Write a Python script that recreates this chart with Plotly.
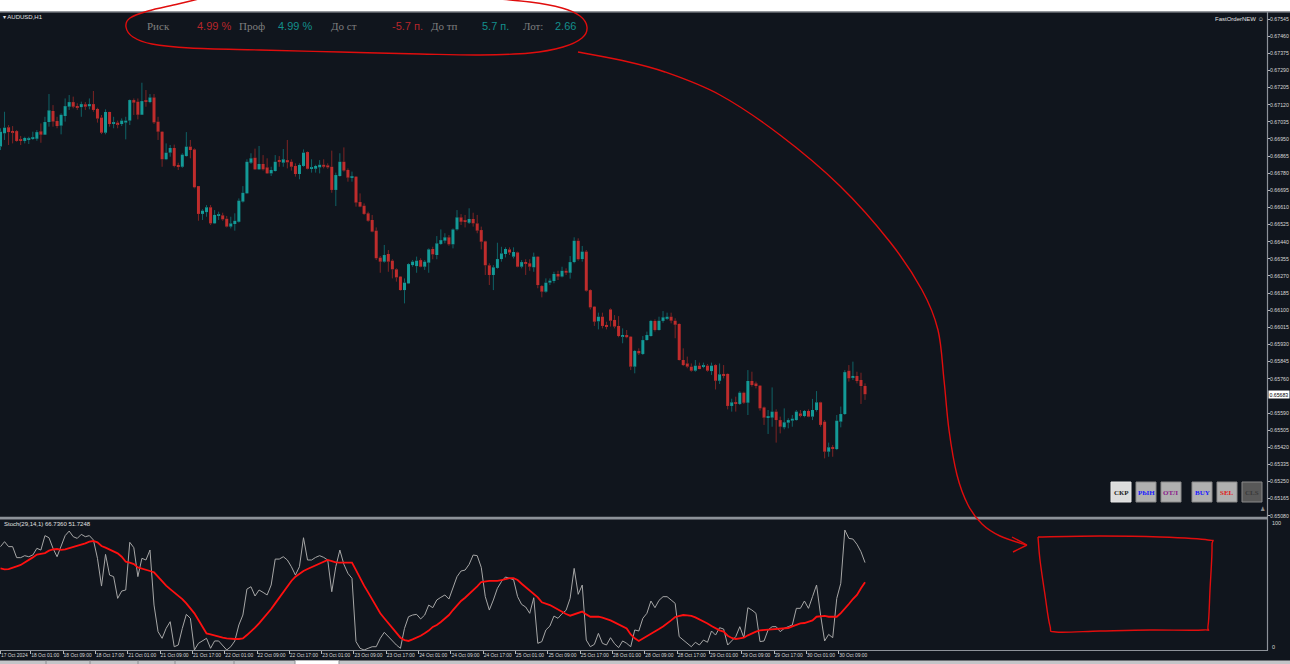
import plotly.graph_objects as go

W, H = 1290, 664

# ---------------- data (AUDUSD H1, 17 Oct 17:00 .. 30 Oct 15:00) ----------------
open_ = [0.66912,0.66978,0.67008,0.66989,0.66989,0.66945,0.66940,0.66946,0.66951,0.66951,
0.66988,0.66971,0.67034,0.67089,0.67039,0.67016,0.67064,0.67110,0.67133,0.67113,
0.67108,0.67122,0.67112,0.67123,0.67099,0.67056,0.66981,0.67084,0.67026,0.67031,
0.67024,0.67031,0.67041,0.67143,0.67135,0.67070,0.67138,0.67133,0.67156,0.67036,
0.66986,0.66849,0.66882,0.66905,0.66821,0.66812,0.66865,0.66912,0.66898,0.66716,
0.66578,0.66587,0.66611,0.66531,0.66569,0.66571,0.66554,0.66515,0.66528,0.66539,
0.66639,0.66680,0.66832,0.66857,0.66799,0.66826,0.66809,0.66779,0.66791,0.66845,
0.66832,0.66845,0.66837,0.66816,0.66776,0.66816,0.66885,0.66802,0.66802,0.66809,
0.66822,0.66819,0.66812,0.66697,0.66766,0.66837,0.66796,0.66758,0.66763,0.66637,
0.66619,0.66581,0.66548,0.66495,0.66361,0.66341,0.66379,0.66346,0.66303,0.66267,
0.66200,0.66233,0.66324,0.66319,0.66349,0.66316,0.66336,0.66404,0.66374,0.66429,
0.66445,0.66462,0.66427,0.66501,0.66561,0.66543,0.66534,0.66553,0.66531,0.66498,
0.66442,0.66323,0.66275,0.66310,0.66354,0.66379,0.66402,0.66366,0.66387,0.66316,
0.66339,0.66333,0.66313,0.66366,0.66220,0.66192,0.66237,0.66245,0.66280,0.66267,
0.66296,0.66286,0.66339,0.66445,0.66354,0.66391,0.66200,0.66118,0.66045,0.66068,
0.66027,0.66104,0.66052,0.66022,0.65972,0.65977,0.65969,0.65820,0.65898,0.65883,
0.65952,0.65972,0.66047,0.66002,0.66047,0.66061,0.66068,0.66048,0.66032,0.65853,
0.65836,0.65820,0.65800,0.65825,0.65820,0.65825,0.65798,0.65828,0.65750,0.65784,
0.65784,0.65625,0.65641,0.65635,0.65691,0.65641,0.65749,0.65737,0.65726,0.65618,
0.65567,0.65567,0.65597,0.65555,0.65519,0.65542,0.65552,0.65555,0.65588,0.65575,
0.65600,0.65572,0.65605,0.65643,0.65547,0.65398,0.65420,0.65411,0.65547,0.65585,
0.65800,0.65767,0.65774,0.65754,0.65724]
high = [0.67003,0.67085,0.67019,0.67014,0.66994,0.66965,0.66961,0.66961,0.66986,0.66994,
0.67027,0.67060,0.67173,0.67118,0.67060,0.67077,0.67151,0.67168,0.67160,0.67127,
0.67135,0.67133,0.67151,0.67188,0.67105,0.67069,0.67097,0.67085,0.67060,0.67041,
0.67052,0.67060,0.67146,0.67151,0.67151,0.67229,0.67193,0.67173,0.67173,0.67060,
0.66989,0.66928,0.66920,0.66922,0.66832,0.66879,0.66984,0.66945,0.66903,0.66716,
0.66601,0.66622,0.66622,0.66597,0.66589,0.66584,0.66568,0.66564,0.66581,0.66655,
0.66716,0.66849,0.66879,0.66902,0.66915,0.66870,0.66854,0.66812,0.66870,0.66865,
0.66900,0.66945,0.66849,0.66829,0.66829,0.66898,0.66888,0.66849,0.66822,0.66845,
0.66849,0.66829,0.66892,0.66783,0.66879,0.66908,0.66804,0.66788,0.66766,0.66680,
0.66630,0.66589,0.66573,0.66511,0.66369,0.66424,0.66399,0.66353,0.66308,0.66270,
0.66258,0.66333,0.66349,0.66366,0.66358,0.66349,0.66407,0.66415,0.66468,0.66501,
0.66482,0.66473,0.66506,0.66597,0.66577,0.66573,0.66606,0.66584,0.66573,0.66515,
0.66445,0.66333,0.66324,0.66435,0.66415,0.66412,0.66412,0.66412,0.66391,0.66349,
0.66353,0.66353,0.66386,0.66369,0.66225,0.66258,0.66258,0.66291,0.66296,0.66316,
0.66308,0.66369,0.66462,0.66457,0.66419,0.66399,0.66204,0.66121,0.66088,0.66088,
0.66043,0.66109,0.66076,0.66071,0.66010,0.66002,0.65972,0.65903,0.65911,0.65972,
0.65994,0.66052,0.66055,0.66068,0.66096,0.66088,0.66088,0.66060,0.66035,0.65911,
0.65870,0.65836,0.65853,0.65840,0.65840,0.65833,0.65840,0.65832,0.65836,0.65828,
0.65787,0.65661,0.65671,0.65698,0.65696,0.65803,0.65795,0.65746,0.65729,0.65622,
0.65605,0.65717,0.65608,0.65572,0.65613,0.65564,0.65580,0.65605,0.65605,0.65605,
0.65608,0.65660,0.65699,0.65646,0.65555,0.65443,0.65431,0.65580,0.65622,0.65803,
0.65828,0.65845,0.65795,0.65790,0.65737]
low = [0.66895,0.66945,0.66920,0.66928,0.66936,0.66920,0.66928,0.66925,0.66945,0.66941,
0.66931,0.66970,0.67011,0.67011,0.67003,0.66973,0.67036,0.67094,0.67102,0.67094,
0.67060,0.67094,0.67097,0.67085,0.67031,0.66974,0.66973,0.67011,0.67003,0.67003,
0.67014,0.66948,0.67019,0.67069,0.67047,0.67069,0.67110,0.67127,0.67024,0.66945,
0.66812,0.66845,0.66862,0.66809,0.66796,0.66807,0.66862,0.66854,0.66705,0.66544,
0.66548,0.66564,0.66523,0.66528,0.66548,0.66544,0.66511,0.66506,0.66495,0.66535,
0.66634,0.66677,0.66826,0.66796,0.66796,0.66793,0.66776,0.66766,0.66788,0.66812,
0.66812,0.66804,0.66793,0.66763,0.66750,0.66812,0.66799,0.66783,0.66783,0.66779,
0.66804,0.66802,0.66683,0.66617,0.66763,0.66788,0.66738,0.66738,0.66614,0.66611,
0.66573,0.66539,0.66487,0.66349,0.66286,0.66336,0.66291,0.66258,0.66242,0.66197,
0.66134,0.66230,0.66316,0.66286,0.66313,0.66300,0.66286,0.66353,0.66353,0.66424,
0.66432,0.66420,0.66407,0.66495,0.66523,0.66511,0.66528,0.66515,0.66482,0.66402,
0.66275,0.66225,0.66200,0.66306,0.66341,0.66362,0.66374,0.66357,0.66313,0.66308,
0.66275,0.66296,0.66291,0.66209,0.66164,0.66187,0.66225,0.66234,0.66250,0.66263,
0.66275,0.66257,0.66333,0.66346,0.66341,0.66192,0.66104,0.66022,0.66005,0.66010,
0.66005,0.66019,0.66010,0.65966,0.65936,0.65961,0.65803,0.65787,0.65878,0.65878,
0.65949,0.65969,0.65994,0.65999,0.66038,0.66052,0.66035,0.65961,0.65850,0.65823,
0.65812,0.65795,0.65795,0.65807,0.65812,0.65795,0.65779,0.65707,0.65734,0.65762,
0.65608,0.65597,0.65597,0.65630,0.65635,0.65580,0.65721,0.65712,0.65602,0.65531,
0.65486,0.65522,0.65443,0.65489,0.65509,0.65514,0.65522,0.65552,0.65569,0.65569,
0.65569,0.65555,0.65597,0.65522,0.65365,0.65373,0.65373,0.65406,0.65519,0.65580,
0.65746,0.65754,0.65737,0.65635,0.65655]
close = [0.66986,0.67006,0.66984,0.66984,0.66940,0.66940,0.66955,0.66950,0.66955,0.66984,
0.66971,0.67034,0.67092,0.67036,0.67014,0.67070,0.67113,0.67133,0.67110,0.67107,
0.67123,0.67110,0.67123,0.67094,0.67051,0.66981,0.67084,0.67024,0.67031,0.67024,
0.67041,0.67041,0.67143,0.67130,0.67070,0.67138,0.67135,0.67156,0.67032,0.66986,
0.66849,0.66882,0.66905,0.66816,0.66812,0.66872,0.66912,0.66895,0.66710,0.66578,
0.66594,0.66611,0.66531,0.66573,0.66573,0.66551,0.66515,0.66531,0.66544,0.66644,
0.66683,0.66837,0.66854,0.66799,0.66826,0.66799,0.66779,0.66796,0.66837,0.66837,
0.66849,0.66834,0.66812,0.66776,0.66821,0.66882,0.66802,0.66807,0.66816,0.66822,
0.66812,0.66809,0.66697,0.66771,0.66837,0.66793,0.66758,0.66761,0.66634,0.66614,
0.66578,0.66544,0.66490,0.66358,0.66341,0.66374,0.66341,0.66303,0.66263,0.66200,
0.66237,0.66329,0.66341,0.66346,0.66316,0.66341,0.66402,0.66377,0.66432,0.66448,
0.66462,0.66427,0.66501,0.66561,0.66539,0.66538,0.66553,0.66531,0.66495,0.66440,
0.66323,0.66275,0.66313,0.66354,0.66382,0.66404,0.66386,0.66389,0.66316,0.66339,
0.66333,0.66316,0.66366,0.66225,0.66192,0.66237,0.66247,0.66280,0.66267,0.66296,
0.66286,0.66339,0.66445,0.66353,0.66391,0.66197,0.66114,0.66043,0.66068,0.66022,
0.66017,0.66048,0.66019,0.65972,0.65977,0.65966,0.65820,0.65898,0.65886,0.65952,
0.65977,0.66047,0.66002,0.66048,0.66065,0.66068,0.66048,0.66028,0.65853,0.65828,
0.65820,0.65800,0.65825,0.65808,0.65825,0.65800,0.65825,0.65750,0.65782,0.65775,
0.65625,0.65643,0.65636,0.65691,0.65641,0.65749,0.65729,0.65724,0.65613,0.65567,
0.65572,0.65597,0.65555,0.65522,0.65544,0.65555,0.65562,0.65597,0.65580,0.65600,
0.65572,0.65605,0.65643,0.65531,0.65398,0.65420,0.65413,0.65552,0.65585,0.65793,
0.65762,0.65774,0.65749,0.65724,0.65683]

stoch_main = [78.9,82.7,78.9,78.9,70.5,70.5,72.0,71.2,72.5,77.6,
76.3,87.3,85.7,77.6,71.2,78.9,87.3,90.8,86.5,85.2,
88.3,86.5,87.3,84.0,70.0,48.8,73.0,57.2,56.0,39.4,
45.0,45.8,82.2,78.1,56.0,70.0,68.7,76.3,34.3,14.0,
8.9,16.5,21.6,2.5,3.8,16.5,27.2,24.2,0.0,5.1,
6.9,8.9,1.3,6.9,6.9,3.8,0.0,2.5,6.9,19.1,
26.7,46.5,48.3,41.2,45.8,44.0,42.0,49.6,69.4,69.4,
71.2,68.7,63.6,57.2,63.6,85.7,68.7,68.7,70.7,72.0,
70.7,68.7,44.5,63.6,76.3,65.4,58.5,54.7,6.4,1.3,
0.0,1.3,2.5,2.5,8.9,13.5,10.2,6.4,3.8,1.3,
16.5,25.4,26.7,27.2,23.7,26.7,34.3,
32.3,38.2,40.2,42.0,38.9,48.3,56.0,60.3,61.0,65.4,
72.5,72.0,63.1,40.7,30.5,38.2,47.1,52.2,55.7,54.7,
53.7,40.7,34.8,32.8,28.0,39.9,5.1,6.4,15.3,18.3,
25.9,24.2,27.7,30.3,39.4,62.3,42.5,49.6,7.6,2.5,
4.3,12.7,5.1,3.8,9.4,4.8,1.8,6.9,5.1,2.5,
15.3,14.5,24.2,28.0,37.4,32.3,37.9,40.7,40.7,38.2,
35.6,10.2,7.6,5.1,2.5,5.9,3.8,7.6,5.9,14.5,
11.4,17.0,16.0,3.8,6.9,10.2,17.8,9.4,32.3,30.5,
28.0,6.4,6.9,15.3,17.8,17.8,14.0,16.5,17.8,19.1,
31.8,31.8,37.4,31.8,40.7,49.6,26.7,6.9,11.9,9.4,
39.4,50.9,91.6,85.2,84.7,80.7,75.0,66.736]
stoch_signal = [62.3,61.6,61.8,63.1,63.9,64.9,66.7,68.7,70.7,72.8,
73.3,74.0,75.8,76.8,77.1,76.5,76.8,77.6,78.6,79.6,
80.4,81.4,82.7,83.2,82.2,79.4,78.1,76.8,75.5,73.8,
71.2,67.4,66.7,65.6,63.1,62.3,61.0,60.3,59.3,56.0,
52.2,49.1,46.5,44.0,42.0,38.9,35.6,31.8,28.0,22.9,
17.8,12.7,11.9,10.9,10.1,9.4,8.9,8.4,8.4,8.4,
8.9,11.4,14.0,17.0,20.3,23.7,27.2,31.3,35.6,39.9,
44.0,49.1,52.7,56.0,58.5,60.3,61.8,63.1,64.9,66.2,
67.4,68.7,67.9,66.9,66.7,66.7,66.7,66.7,61.0,54.7,
49.1,44.0,38.9,33.1,28.0,24.2,20.3,16.5,12.7,9.4,
7.6,6.9,8.1,9.4,10.9,12.7,14.8,
17.6,19.1,21.4,23.9,26.7,30.5,34.3,37.4,39.9,42.7,
45.8,48.6,51.9,52.4,52.7,52.7,52.7,53.4,54.4,54.9,
54.9,53.4,50.6,48.1,45.3,42.5,40.2,36.4,35.4,34.3,
32.6,30.8,28.7,27.5,26.2,27.2,28.2,29.3,27.2,25.4,
25.4,25.4,24.7,23.9,22.6,21.1,19.6,18.0,16.5,11.9,
8.9,6.9,8.6,10.9,12.5,14.2,16.0,18.0,20.1,22.6,
25.2,26.2,26.7,26.5,26.0,24.9,23.4,22.1,20.3,18.3,
16.5,15.0,14.0,10.9,9.2,8.4,8.9,9.4,11.2,12.7,
14.0,15.0,15.3,15.3,15.8,15.8,16.0,16.3,16.8,18.0,
19.3,20.3,20.6,21.4,22.6,25.4,25.7,26.0,25.4,25.4,
25.4,28.2,31.3,35.1,38.9,42.0,47.1,51.7248]

time_tick_idx = [0, 8, 16, 24, 32, 40, 48, 56, 64, 72, 80, 88, 96, 104, 112, 120, 128,
                 136, 144, 152, 160, 168, 176, 184, 192, 200, 208]
time_tick_text = ["17 Oct 2024", "18 Oct 01:00", "18 Oct 09:00", "18 Oct 17:00", "21 Oct 01:00",
                  "21 Oct 09:00", "21 Oct 17:00", "22 Oct 01:00", "22 Oct 09:00", "22 Oct 17:00",
                  "23 Oct 01:00", "23 Oct 09:00", "23 Oct 17:00", "24 Oct 01:00", "24 Oct 09:00",
                  "24 Oct 17:00", "25 Oct 01:00", "25 Oct 09:00", "25 Oct 17:00", "28 Oct 01:00",
                  "28 Oct 09:00", "28 Oct 17:00", "29 Oct 01:00", "29 Oct 09:00", "29 Oct 17:00",
                  "30 Oct 01:00", "30 Oct 09:00"]
price_ticks = [0.65080, 0.65165, 0.65250, 0.65335, 0.65420, 0.65505, 0.65590, 0.65760,
               0.65845, 0.65930, 0.66015, 0.66100, 0.66185, 0.66270, 0.66355, 0.66440, 0.66525,
               0.66610, 0.66695, 0.66780, 0.66865, 0.66950, 0.67035, 0.67120, 0.67205, 0.67290,
               0.67375, 0.67460, 0.67545]
last_price = 0.65683

# ---------------- styling ----------------
BG = "#10151d"
TEAL = "#139a97"
RED = "#bf2c2c"
TEAL_W = "#0f6266"
RED_W = "#7d2424"
AX_FONT = "Liberation Sans Narrow, Liberation Sans, Arial"


def X(px):
    return px / W


def Y(py):
    return 1 - py / H


idx = list(range(len(open_)))

up_x, up_y, dn_x, dn_y = [], [], [], []
body_base, body_h, body_col = [], [], []
for i, (o, h, l, c) in enumerate(zip(open_, high, low, close)):
    top, bot = max(o, c), min(o, c)
    sx = [i, i, None, i, i, None]
    sy = [h, top, None, bot, l, None]
    if c >= o:
        up_x += sx; up_y += sy
        body_col.append(TEAL)
    else:
        dn_x += sx; dn_y += sy
        body_col.append(RED)
    body_base.append(bot)
    body_h.append(max(top - bot, 0.00004))

fig = go.Figure()
fig.add_trace(go.Scatter(x=up_x, y=up_y, mode="lines", line=dict(color=TEAL_W, width=1),
                         xaxis="x", yaxis="y", hoverinfo="skip"))
fig.add_trace(go.Scatter(x=dn_x, y=dn_y, mode="lines", line=dict(color=RED_W, width=1),
                         xaxis="x", yaxis="y", hoverinfo="skip"))
fig.add_trace(go.Bar(x=idx, y=body_h, base=body_base, width=0.74, marker=dict(color=body_col, line=dict(width=0)),
                     xaxis="x", yaxis="y", hoverinfo="skip"))
fig.add_trace(go.Scatter(x=idx, y=stoch_main, mode="lines", line=dict(color="#a6a6a6", width=1),
                         xaxis="x2", yaxis="y2", hoverinfo="skip"))
fig.add_trace(go.Scatter(x=idx, y=stoch_signal, mode="lines", line=dict(color="#ff1010", width=1.8),
                         xaxis="x2", yaxis="y2", hoverinfo="skip"))

x_range = [-0.124, 313.5]
xdom = [0, 1267 / W]
tick_pos = [t - 0.5 if t > 0 else 0 for t in time_tick_idx]

fig.update_layout(
    width=W, height=H, margin=dict(l=0, r=0, t=0, b=0, autoexpand=False),
    paper_bgcolor=BG, plot_bgcolor=BG, showlegend=False, hovermode=False,
    barmode="overlay",
    xaxis=dict(domain=xdom, range=x_range, anchor="y", showticklabels=False, showgrid=False,
               zeroline=False, ticks="", showline=False, automargin=False),
    yaxis=dict(domain=[Y(517), Y(12)], range=[0.65074, 0.67580], side="right", anchor="x",
               tickvals=price_ticks, ticktext=[f"{v:.5f}" for v in price_ticks],
               ticks="outside", ticklen=2, tickcolor="#b8b8b8", ticklabelstandoff=-1,
               tickfont=dict(size=5.2, color="#d8d8d8", family=AX_FONT),
               showgrid=False, zeroline=False, showline=False, automargin=False),
    xaxis2=dict(domain=xdom, range=x_range, anchor="y2", tickvals=tick_pos, ticktext=time_tick_text,
                ticks="outside", ticklen=3, tickcolor="#b8b8b8", ticklabelposition="outside right",
                tickangle=0, tickfont=dict(size=4.9, color="#d8d8d8", family=AX_FONT),
                showgrid=False, zeroline=False, showline=False, automargin=False),
    yaxis2=dict(domain=[Y(650), Y(519)], range=[0, 100], anchor="x2", showticklabels=False,
                showgrid=False, zeroline=False, ticks="", showline=False, automargin=False),
)

shapes = []
GR = "#8d9299"
# top white strip and frame lines
shapes.append(dict(type="rect", xref="paper", yref="paper", x0=0, x1=1, y0=Y(11.5), y1=1,
                   fillcolor="#ffffff", line=dict(width=0), layer="above"))
shapes.append(dict(type="line", xref="paper", yref="paper", x0=0, x1=1, y0=Y(12), y1=Y(12),
                   line=dict(color="#a0a4aa", width=1.2), layer="above"))
shapes.append(dict(type="rect", xref="paper", yref="paper", x0=0, x1=X(1267.5), y0=Y(519.5), y1=Y(516.8),
                   fillcolor=GR, line=dict(width=0), layer="above"))
shapes.append(dict(type="line", xref="paper", yref="paper", x0=X(1267.5), x1=X(1267.5), y0=Y(650.5), y1=Y(12),
                   line=dict(color=GR, width=1.2), layer="above"))
shapes.append(dict(type="line", xref="paper", yref="paper", x0=0, x1=X(1268), y0=Y(650.5), y1=Y(650.5),
                   line=dict(color=GR, width=1.2), layer="above"))
# bottom tab strip
shapes.append(dict(type="rect", xref="paper", yref="paper", x0=0, x1=1, y0=0, y1=Y(660.5),
                   fillcolor="#c3c5c8", line=dict(width=0), layer="above"))
shapes.append(dict(type="rect", xref="paper", yref="paper", x0=X(295), x1=X(339), y0=0, y1=Y(660.5),
                   fillcolor="#ffffff", line=dict(width=0), layer="above"))
for tx in [46, 90, 138, 175, 234, 295, 339]:
    shapes.append(dict(type="line", xref="paper", yref="paper", x0=X(tx), x1=X(tx), y0=0, y1=Y(660.5),
                       line=dict(color="#8a8c90", width=1), layer="above"))

# order buttons
buttons = [("СКР", 1111, "#dcdcdc", "#1a1a1a"), ("РЫН", 1136, "#b0b0b0", "#1a1aff"),
           ("ОТЛ", 1161, "#b0b0b0", "#8b1a8b"), ("BUY", 1192, "#b0b0b0", "#1a1aff"),
           ("SEL", 1217, "#b0b0b0", "#e01a1a"), ("CLS", 1242, "#585858", "#3a3a3a")]
annotations = []
for txt, bx, fill, col in buttons:
    shapes.append(dict(type="rect", xref="paper", yref="paper", x0=X(bx), x1=X(bx + 20), y0=Y(502), y1=Y(482),
                       fillcolor=fill, line=dict(color="#e8e8e8" if txt == "СКР" else "#8a8a8a", width=1),
                       layer="above"))
    annotations.append(dict(xref="paper", yref="paper", x=X(bx + 10), y=Y(492.5), text=f"<b>{txt}</b>",
                            showarrow=False, xanchor="center", yanchor="middle",
                            font=dict(family="Liberation Serif", size=7, color=col)))


# hand-drawn red marks
def smooth_path(pts):
    P = [(X(x), Y(y)) for x, y in pts]
    n = len(P)
    d = f"M {P[0][0]:.5f},{P[0][1]:.5f}"
    for k in range(n - 1):
        p0 = P[k - 1] if k > 0 else P[k]
        p1, p2 = P[k], P[k + 1]
        p3 = P[k + 2] if k + 2 < n else P[k + 1]
        c1 = (p1[0] + (p2[0] - p0[0]) / 6, p1[1] + (p2[1] - p0[1]) / 6)
        c2 = (p2[0] - (p3[0] - p1[0]) / 6, p2[1] - (p3[1] - p1[1]) / 6)
        d += f" C {c1[0]:.5f},{c1[1]:.5f} {c2[0]:.5f},{c2[1]:.5f} {p2[0]:.5f},{p2[1]:.5f}"
    return d


MARK = "#e00d0d"
loop_pts = [(207, -3), (178, 4), (148, 11), (130, 18), (126, 27), (133, 37), (152, 44), (190, 48),
            (260, 50), (340, 52), (420, 54), (480, 55), (530, 53), (563, 47), (582, 38), (587, 27),
            (580, 16), (562, 8), (530, 2), (476, -3)]
arrow_pts = [(578, 52), (620, 60), (665, 72), (720, 95), (780, 135), (840, 186), (890, 242),
             (922, 290), (938, 330), (944, 380), (949, 430), (957, 475), (968, 505), (982, 524),
             (1000, 536), (1026, 545)]
rect_pts = [(1038, 537), (1100, 536), (1160, 537), (1208, 540), (1212, 546), (1210, 590), (1208, 626),
            (1203, 630), (1150, 630), (1100, 631), (1056, 632), (1050, 626), (1045, 595), (1040, 560),
            (1038, 537)]
for pts in (loop_pts, arrow_pts, rect_pts):
    shapes.append(dict(type="path", xref="paper", yref="paper", path=smooth_path(pts),
                       line=dict(color=MARK, width=1.4), layer="above"))
for hx, hy in [(1012, 537), (1013, 552)]:
    shapes.append(dict(type="line", xref="paper", yref="paper", x0=X(hx), y0=Y(hy), x1=X(1027), y1=Y(545),
                       line=dict(color=MARK, width=1.4), layer="above"))

# header texts
GRAY_T = "#7f7f7f"
TXT_RED = "#b8262b"
TXT_TEAL = "#138e8c"
header = [("Риск", 145, GRAY_T, "Liberation Serif"), ("4.99 %", 195, TXT_RED, "Liberation Sans"),
          ("Проф", 237, GRAY_T, "Liberation Serif"), ("4.99 %", 276, TXT_TEAL, "Liberation Sans"),
          ("До ст", 329, GRAY_T, "Liberation Serif"), ("-5.7 п.", 390, TXT_RED, "Liberation Sans"),
          ("До тп", 429, GRAY_T, "Liberation Serif"), ("5.7 п.", 480, TXT_TEAL, "Liberation Sans"),
          ("Лот:", 521, GRAY_T, "Liberation Serif"), ("2.66", 553, TXT_TEAL, "Liberation Sans")]
for txt, hx, col, fam in header:
    annotations.append(dict(xref="paper", yref="paper", x=X(hx), y=Y(25.5), text=txt, showarrow=False,
                            xanchor="left", yanchor="middle", font=dict(family=fam, size=11, color=col)))

annotations += [
    dict(xref="paper", yref="paper", x=X(1), y=Y(17.5), text="▾ AUDUSD,H1", showarrow=False,
         xanchor="left", yanchor="middle", font=dict(family=AX_FONT, size=6, color="#e0e0e0")),
    dict(xref="paper", yref="paper", x=X(1266), y=Y(18.5), text="FastOrderNEW ☺", showarrow=False,
         xanchor="right", yanchor="middle", font=dict(family=AX_FONT, size=6, color="#e0e0e0")),
    dict(xref="paper", yref="paper", x=X(2), y=Y(523.5), text="Stoch(29,14,1) 66.7360 51.7248",
         showarrow=False, xanchor="left", yanchor="middle",
         font=dict(family=AX_FONT, size=6, color="#e0e0e0")),
    dict(xref="paper", yref="paper", x=X(1270), y=Y(522.5), text="100", showarrow=False,
         xanchor="left", yanchor="middle", font=dict(family=AX_FONT, size=5.5, color="#d8d8d8")),
    dict(xref="paper", yref="paper", x=X(1270), y=Y(646.5), text="0", showarrow=False,
         xanchor="left", yanchor="middle", font=dict(family=AX_FONT, size=5.5, color="#d8d8d8")),
    dict(xref="paper", yref="y", x=X(1268), y=last_price, text=f"{last_price:.5f}", showarrow=False,
         xanchor="left", yanchor="middle", bgcolor="#ffffff", borderpad=0.5,
         font=dict(family=AX_FONT, size=5.2, color="#000000")),
    dict(xref="paper", yref="paper", x=X(1262), y=Y(509), text="♟", showarrow=False,
         xanchor="center", yanchor="middle", font=dict(size=6, color="#8a8a8a")),
]

fig.update_layout(shapes=shapes, annotations=annotations)
fig.write_html("out.html")
